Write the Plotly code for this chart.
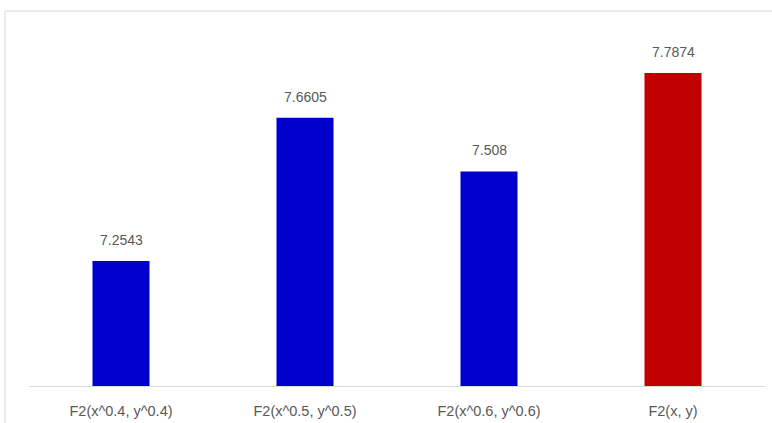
import plotly.graph_objects as go

categories = ["F2(x^0.4, y^0.4)", "F2(x^0.5, y^0.5)", "F2(x^0.6, y^0.6)", "F2(x, y)"]
values = [7.2543, 7.6605, 7.508, 7.7874]
colors = ["#0000CC", "#0000CC", "#0000CC", "#C00000"]

fig = go.Figure()
fig.add_trace(go.Bar(
    x=categories, y=values, marker=dict(color=colors, line=dict(width=0)),
    width=0.31, hoverinfo="skip",
))

for c, v in zip(categories, values):
    fig.add_annotation(x=c, y=v, text=str(v), showarrow=False, yanchor="bottom",
                       yshift=11, font=dict(family="Liberation Sans, Arial", size=14, color="#595959"))

fig.add_shape(type="rect", xref="paper", yref="paper", x0=-0.0326, x1=1.05, y0=-0.3, y1=1.0027,
              line=dict(color="#d9d9d9", width=1), fillcolor="rgba(0,0,0,0)", layer="below")

fig.update_layout(
    width=772, height=423,
    margin=dict(l=29, r=7, t=12, b=37),
    paper_bgcolor="white", plot_bgcolor="white",
    showlegend=False,
    bargap=0.69,
    xaxis=dict(showline=True, linecolor="#d9d9d9", linewidth=1, showgrid=False,
               automargin=False,
               tickfont=dict(family="Liberation Sans, Arial", size=14.5, color="#595959"),
               ticks="", ticklabelstandoff=12),
    yaxis=dict(range=[6.9, 7.96], visible=False, showgrid=False, zeroline=False,
               automargin=False),
)

fig.write_html("out.html")
